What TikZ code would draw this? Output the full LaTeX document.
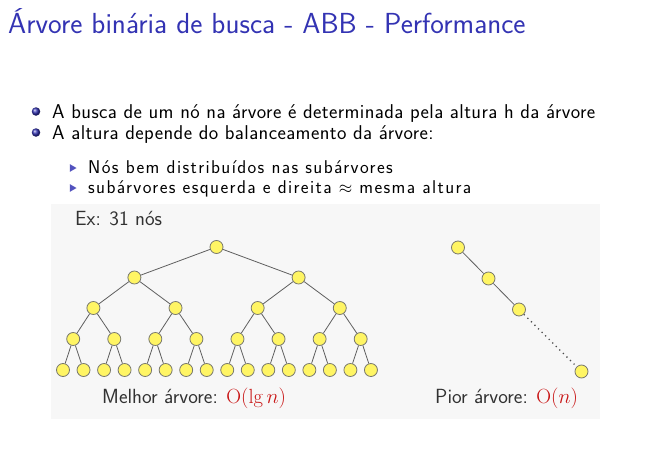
\documentclass[tikz,border=0pt]{standalone}
\usepackage{fontspec}
\usetikzlibrary{shapes.geometric}
\newfontfamily\spacedsans[LetterSpace=2]{Latin Modern Sans}
\newfontfamily\widesans[LetterSpace=7.5]{Latin Modern Sans}
\definecolor{struct}{RGB}{51,51,179}
\definecolor{boxbg}{RGB}{247,247,247}
\definecolor{nodefill}{RGB}{255,245,100}
\definecolor{nodedraw}{RGB}{120,120,110}
\definecolor{edgecol}{RGB}{95,95,95}
\definecolor{labcol}{RGB}{50,50,50}
\definecolor{ordcol}{RGB}{200,20,20}
\tikzset{
  tn/.style={circle,fill=nodefill,draw=nodedraw,line width=0.8pt,minimum size=13pt,inner sep=0pt},
  edge/.style={draw=edgecol,line width=0.8pt},
  dotedge/.style={draw=edgecol!80!black,line width=1.3pt,dash pattern=on 1.2pt off 3.8pt},
  titletext/.style={anchor=base west,inner sep=0pt,text=struct,font=\sffamily\fontsize{29}{34}\selectfont},
  itemtext/.style={anchor=base west,inner sep=0pt,font=\spacedsans\fontsize{20}{24}\selectfont},
  subtext/.style={anchor=base west,inner sep=0pt,font=\widesans\fontsize{18.5}{22}\selectfont},
  labtext/.style={anchor=base west,inner sep=0pt,text=labcol,font=\sffamily\fontsize{20.5}{24}\selectfont},
  ballitem/.style={circle,inner sep=0pt,minimum size=8.5pt,ball color=struct},
  triitem/.style={regular polygon,regular polygon sides=3,shape border rotate=-90,fill=struct!85!white,inner sep=0pt,minimum size=9pt}
}
\begin{document}
\begin{tikzpicture}[x=1pt,y=-1pt]
\useasboundingbox (0,0) rectangle (657,458);
\fill[white] (0,0) rectangle (657,458);
% title
\node[titletext] (title) at (8,33) {Árvore binária de busca - ABB - Performance};
% bullets
\node[ballitem] (b1) at (36,111.5) {};
\node[itemtext] (t1) at (52,118) {A busca de um nó na árvore é determinada pela altura h da árvore};
\node[ballitem] (b2) at (36,132.5) {};
\node[itemtext] (t2) at (52,139) {A altura depende do balanceamento da árvore:};
\node[triitem] (s1) at (72,168) {};
\node[subtext] (u1) at (88,173.5) {Nós bem distribuídos nas subárvores};
\node[triitem] (s2) at (72,188) {};
\node[subtext] (u2) at (88,193.5) {subárvores esquerda e direita $\approx$ mesma altura};
% box
\fill[boxbg] (51,204) rectangle (600,419);
\node[labtext] (ex) at (75,225) {Ex: 31 nós};
% balanced tree
\node[tn] (r) at (216.5,247) {};
\node[tn] (a1) at (134.4,277.5) {};
\node[tn] (a2) at (298.6,277.5) {};
\foreach \i in {1,...,4} {
  \node[tn] (b\i) at ({93.4+82.13*(\i-1)},308) {};
}
\foreach \i in {1,...,8} {
  \node[tn] (c\i) at ({73.2+41.07*(\i-1)},339) {};
}
\foreach \i in {1,...,16} {
  \node[tn] (d\i) at ({63+20.53*(\i-1)},370) {};
}
\draw[edge] (r) -- (a1);
\draw[edge] (r) -- (a2);
\draw[edge] (a1) -- (b1);
\draw[edge] (a1) -- (b2);
\draw[edge] (a2) -- (b3);
\draw[edge] (a2) -- (b4);
\foreach \i [evaluate=\i as \l using int(2*\i-1), evaluate=\i as \m using int(2*\i)] in {1,...,4} {
  \draw[edge] (b\i) -- (c\l);
  \draw[edge] (b\i) -- (c\m);
}
\foreach \i [evaluate=\i as \l using int(2*\i-1), evaluate=\i as \m using int(2*\i)] in {1,...,8} {
  \draw[edge] (c\i) -- (d\l);
  \draw[edge] (c\i) -- (d\m);
}
% worst tree
\node[tn] (w1) at (458,247.5) {};
\node[tn] (w2) at (488.5,278.5) {};
\node[tn] (w3) at (519,309.5) {};
\node[tn] (w4) at (581.5,371.5) {};
\draw[edge] (w1) -- (w2);
\draw[edge] (w2) -- (w3);
\draw[dotedge] (w3) -- (w4);
% labels
\node[labtext] (ml) at (102,403) {Melhor árvore: \textcolor{ordcol}{$\mathrm{O}(\lg n)$}};
\node[labtext] (pl) at (435,403) {Pior árvore: \textcolor{ordcol}{$\mathrm{O}(n)$}};
\end{tikzpicture}
\end{document}
